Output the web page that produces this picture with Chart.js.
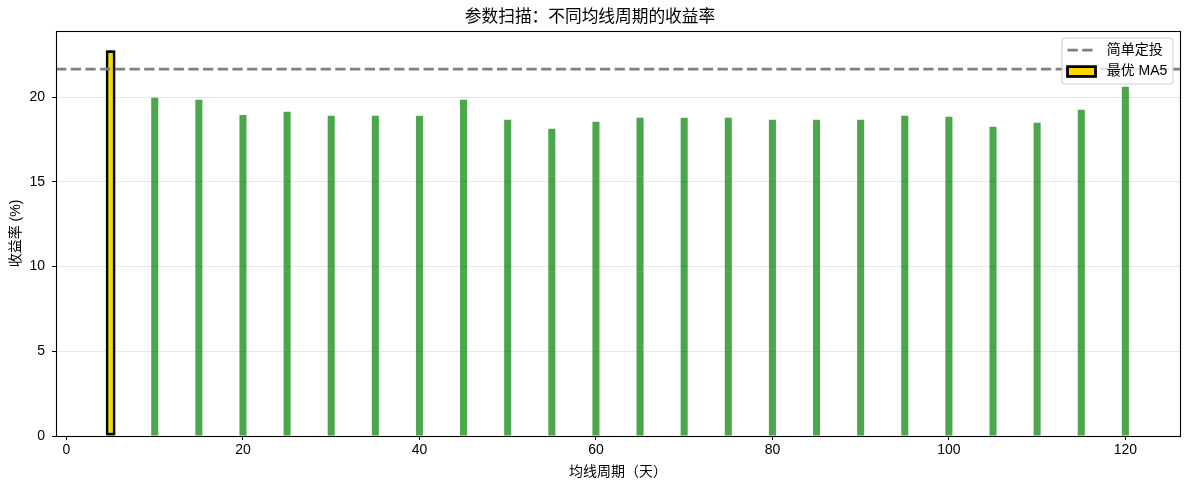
<!DOCTYPE html>
<html>
<head>
<meta charset="utf-8">
<title>参数扫描：不同均线周期的收益率</title>
<script src="https://cdn.jsdelivr.net/npm/chart.js@4.4.0/dist/chart.umd.min.js"></script>
<style>
  html, body { margin: 0; padding: 0; background: #fff; }
  canvas { display: block; }
</style>
</head>
<body>
<canvas id="myChart" width="1189" height="490"></canvas>
<script>
// MA periods that were scanned (days)
const periods = [5, 10, 15, 20, 25, 30, 35, 40, 45, 50, 55, 60,
                 65, 70, 75, 80, 85, 90, 95, 100, 105, 110, 115, 120];
// return of the strategy for each period (%)
const returns = [22.76, 19.96, 19.84, 18.95, 19.13, 18.90, 18.90, 18.90, 19.84, 18.66, 18.13, 18.54,
                 18.78, 18.78, 18.78, 18.66, 18.66, 18.66, 18.90, 18.84, 18.25, 18.48, 19.25, 20.61];
// benchmark: plain regular investment
const benchmarkReturn = 21.65;
const benchmarkLabel = '简单定投';
const bestPeriod = 5;
const bestLabel = '最优 MA5';
const xTickStep = 20;
const yTickStep = 5;

const FONT = "'Liberation Sans', 'Noto Sans CJK SC', sans-serif";
const FS = 14;
const BAR_W = 0.8;          // bar width in data units (like matplotlib width=0.8)
const EDGE = 2.78;          // 2pt edge on the best bar

Chart.defaults.font.family = FONT;
Chart.defaults.font.size = FS;
Chart.defaults.color = '#000';

const bestIndex = periods.indexOf(bestPeriod);
const spacing = periods[1] - periods[0];

// axis limits with 5% margins, same as matplotlib autoscale
const lo = periods[0] - BAR_W / 2;
const hi = periods[periods.length - 1] + BAR_W / 2;
const xMin = lo - (hi - lo) * 0.05;
const xMax = hi + (hi - lo) * 0.05;
const yMax = Math.max(...returns, benchmarkReturn) * 1.05;

const barPoints = periods.map((p, i) => ({x: p, y: returns[i]}));
const bestPoints = [{x: periods[bestIndex], y: returns[bestIndex]}];
const benchPoints = [{x: xMin, y: benchmarkReturn}, {x: xMax, y: benchmarkReturn}];

// box around the plot area (matplotlib spines)
const frame = {
    id: 'frame',
    afterDatasetsDraw(chart) {
        const {ctx, chartArea: a} = chart;
        ctx.save();
        ctx.strokeStyle = '#000';
        ctx.lineWidth = 1.1;
        ctx.strokeRect(Math.round(a.left) + 0.5, Math.round(a.top) + 0.5,
            Math.round(a.right - a.left), Math.round(a.bottom - a.top));
        ctx.restore();
    }
};

// legend in the upper right corner, inside the axes
const legendBox = {
    id: 'legendBox',
    afterDraw(chart) {
        const {ctx, chartArea: a} = chart;
        ctx.save();
        ctx.font = FS + 'px ' + FONT;
        const pad = 0.4 * FS, handleW = 2 * FS, gap = 0.8 * FS;
        const textW = Math.max(ctx.measureText(benchmarkLabel).width, ctx.measureText(bestLabel).width);
        const w = pad + handleW + gap + textW + pad;
        const h = 46;
        const x = a.right - 0.5 * FS - w;
        const y = a.top + 0.5 * FS;
        const r = 3;
        ctx.beginPath();
        ctx.moveTo(x + r, y);
        ctx.arcTo(x + w, y, x + w, y + h, r);
        ctx.arcTo(x + w, y + h, x, y + h, r);
        ctx.arcTo(x, y + h, x, y, r);
        ctx.arcTo(x, y, x + w, y, r);
        ctx.closePath();
        ctx.fillStyle = 'rgba(255,255,255,0.8)';
        ctx.fill();
        ctx.strokeStyle = '#cccccc';
        ctx.lineWidth = 1;
        ctx.stroke();

        const hx = x + pad;
        const row1 = y + 12, row2 = y + 33.5;
        // dashed line handle
        ctx.beginPath();
        ctx.setLineDash([10.3, 4.4]);
        ctx.strokeStyle = '#808080';
        ctx.lineWidth = 2.78;
        ctx.moveTo(hx, row1);
        ctx.lineTo(hx + handleW, row1);
        ctx.stroke();
        ctx.setLineDash([]);
        // yellow patch handle
        const bh = 0.7 * FS;
        ctx.fillStyle = '#FFD700';
        ctx.fillRect(hx, row2 - bh / 2, handleW, bh);
        ctx.strokeStyle = '#000';
        ctx.lineWidth = EDGE;
        ctx.strokeRect(hx, row2 - bh / 2, handleW, bh);

        ctx.fillStyle = '#000';
        ctx.textBaseline = 'middle';
        ctx.fillText(benchmarkLabel, hx + handleW + gap, row1);
        ctx.fillText(bestLabel, hx + handleW + gap, row2);
        ctx.restore();
    }
};

new Chart('myChart', {
    type: 'bar',
    data: {
        datasets: [{
            type: 'line',
            label: benchmarkLabel,
            data: benchPoints,
            borderColor: '#808080',
            borderWidth: 2.78,
            borderDash: [10.3, 4.4],
            pointRadius: 0,
            fill: false,
            order: 0
        }, {
            label: bestLabel,
            data: bestPoints,
            backgroundColor: '#FFD700',
            borderColor: '#000',
            borderWidth: EDGE,
            borderSkipped: false,
            grouped: false,
            categoryPercentage: 1,
            barPercentage: (BAR_W + EDGE / 8.8) / spacing,
            order: 1
        }, {
            label: 'returns',
            data: barPoints,
            backgroundColor: 'rgba(0,128,0,0.7)',
            borderWidth: 0,
            grouped: false,
            categoryPercentage: 1,
            barPercentage: BAR_W / spacing,
            order: 2
        }]
    },
    options: {
        responsive: false,
        animation: false,
        devicePixelRatio: 1,
        layout: { padding: { left: 0, right: 9, top: 0, bottom: 0 } },
        plugins: {
            legend: { display: false },
            tooltip: { enabled: false },
            title: {
                display: true,
                text: '参数扫描：不同均线周期的收益率',
                font: { size: 16.7, weight: 'normal' },
                color: '#000',
                padding: { top: 7, bottom: 4 }
            }
        },
        scales: {
            x: {
                type: 'linear',
                min: xMin,
                max: xMax,
                offset: false,
                grid: { display: true, offset: false, drawOnChartArea: false, drawTicks: true, tickLength: 4, tickColor: '#000' },
                border: { display: true, color: '#000', width: 1 },
                ticks: { stepSize: xTickStep, includeBounds: false, padding: 2, maxRotation: 0, color: '#000' },
                title: { display: true, text: '均线周期（天）', padding: { top: 0, bottom: 9.6 }, color: '#000' },
                afterFit(scale) { scale.height = 54; }
            },
            y: {
                min: 0,
                max: yMax,
                grid: { color: 'rgba(176,176,176,0.3)', tickColor: '#000', tickLength: 4 },
                border: { display: true, color: '#000', width: 1 },
                ticks: { stepSize: yTickStep, includeBounds: false, padding: 7, color: '#000' },
                title: { display: true, text: '收益率 (%)', padding: { top: 8, bottom: 0 }, color: '#000' },
                afterFit(scale) { scale.width = 56; }
            }
        }
    },
    plugins: [frame, legendBox]
});
</script>
</body>
</html>
